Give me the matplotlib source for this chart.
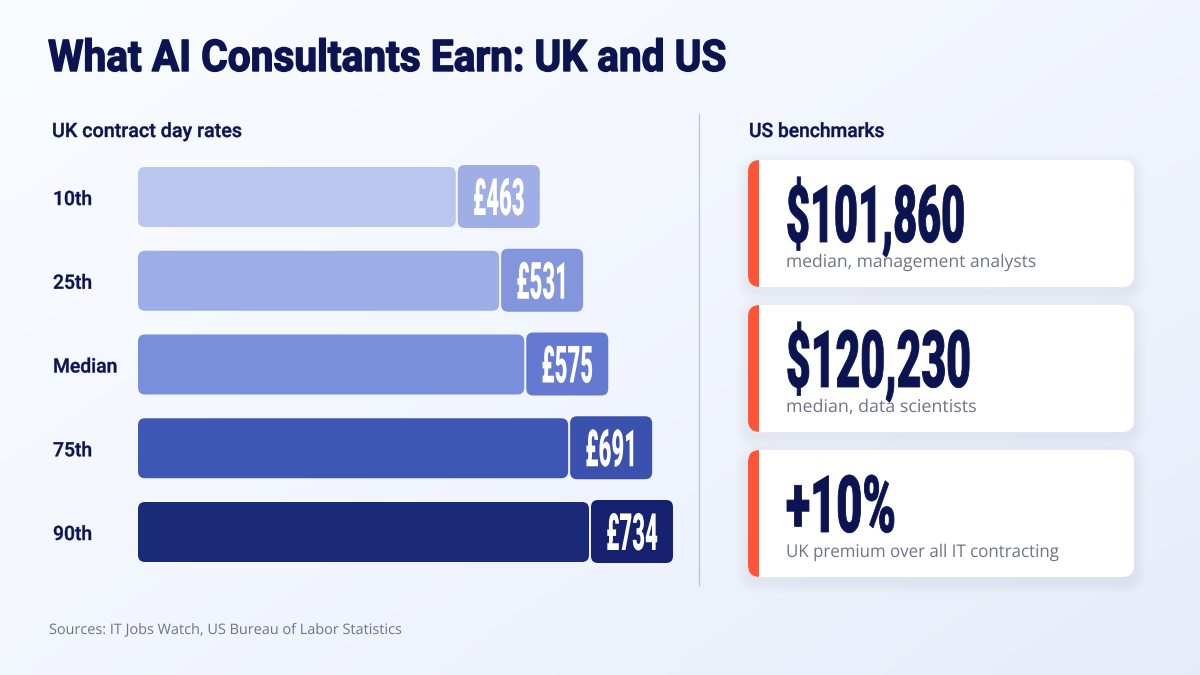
#!/usr/bin/env python3
"""Day rate bars and US benchmark cards, saved to out.png."""

import numpy as np
import matplotlib
matplotlib.use("Agg")
import matplotlib.pyplot as plt
import matplotlib.patheffects as pe
from matplotlib.patches import FancyBboxPatch, Rectangle
from matplotlib.transforms import Affine2D

TITLE = "What AI Consultants Earn: UK and US"
SOURCE = "Sources: IT Jobs Watch, US Bureau of Labor Statistics"

percentiles = ["10th", "25th", "Median", "75th", "90th"]
day_rates = [463, 531, 575, 691, 734]
rate_labels = ["£463", "£531", "£575", "£691", "£734"]

benchmark_values = ["$101,860", "$120,230", "+10%"]
benchmark_notes = ["median, management analysts", "median, data scientists",
                   "UK premium over all IT contracting"]

# the bars in the picture are not to scale, so the axis is bent to fit them
scale_rates = [0, 463, 531, 575, 691, 734]
scale_frac = [0.0, 0.751, 0.832, 0.879, 0.961, 1.0]

NAVY = "#0b1450"
GREY = "#6f7486"
RED = "#ff5436"
bar_colors = ["#b9c6ee", "#9dade5", "#7a8fdc", "#3f57b4", "#1b2a78"]
pill_colors = ["#9fafe5", "#8396db", "#6479d0", "#3a51ad", "#162270"]

HEAD = "Roboto"
BODY = "Open Sans"


class Squeeze(pe.AbstractPathEffect):
    """Narrow a text horizontally about a fixed x pixel; no condensed font is installed."""

    def __init__(self, factor, x0, grow=0.0):
        super().__init__()
        self.factor, self.x0, self.grow = factor, x0, grow

    def draw_path(self, renderer, gc, tpath, affine, rgbFace=None):
        squeezed = affine + Affine2D().translate(-self.x0, 0).scale(self.factor, 1).translate(self.x0, 0)
        gc0 = renderer.new_gc()
        gc0.copy_properties(gc)
        if self.grow:
            gc0.set_linewidth(self.grow)
            gc0.set_foreground(rgbFace)
        renderer.draw_path(gc0, tpath, squeezed, rgbFace)
        gc0.restore()


def box(ax, x0, y0, x1, y1, color, radius=7, **kw):
    p = FancyBboxPatch((x0 + radius, y0 + radius), x1 - x0 - 2 * radius, y1 - y0 - 2 * radius,
                       boxstyle=f"round,pad={radius},rounding_size={radius}",
                       facecolor=color, edgecolor="none", **kw)
    ax.add_patch(p)
    return p


def label(ax, x, y, s, size, color, family=HEAD, weight="medium", squeeze=1.0, grow=0.0, ha="left", zorder=6):
    return ax.text(x, y, s, fontsize=size, color=color, family=family, weight=weight, va="baseline",
                   ha=ha, zorder=zorder, path_effects=[Squeeze(squeeze, x, grow)])


fig = plt.figure(figsize=(12, 6.75), dpi=100)
ax = fig.add_axes([0, 0, 1, 1])
ax.set_xlim(0, 1200)
ax.set_ylim(675, 0)
ax.axis("off")

# background wash, light top left to bluish bottom right
yy, xx = np.mgrid[0:1:68j, 0:1:120j]
wash = 0.55 * xx + 0.45 * yy
wash = 0.5 * wash + 0.5 * wash ** 2
c0, c1 = np.array([0.975, 0.985, 1.0]), np.array([0.905, 0.925, 0.98])
ax.imshow(c0 + (c1 - c0) * wash[..., None], extent=(0, 1200, 675, 0), aspect="auto",
          interpolation="bicubic", zorder=0)

label(ax, 48, 71, TITLE, 31.5, NAVY, weight="bold", squeeze=0.928, grow=1.0)
label(ax, 52, 137, "UK contract day rates", 14.2, NAVY, squeeze=1.0, grow=0.3)
label(ax, 749, 137, "US benchmarks", 14.2, NAVY, squeeze=0.975, grow=0.3)
label(ax, 49, 634, SOURCE, 10.4, GREY, family=BODY, weight="normal")
ax.plot([699, 699], [114, 585], color="#bcc5d6", lw=1, zorder=1)

# bars live on a second axes with the bent rate scale
chart = fig.add_axes([138 / 1200, 1 - 562 / 675, 535 / 1200, 395 / 675])
chart.set_xscale("function", functions=(lambda v: np.interp(v, scale_rates, scale_frac),
                                        lambda f: np.interp(f, scale_frac, scale_rates)))
chart.set_xlim(scale_rates[0], scale_rates[-1])
chart.axis("off")

for i, (name, rate, lab) in enumerate(zip(percentiles, day_rates, rate_labels)):
    end = chart.transData.transform((rate, 0))[0]  # pill's right edge
    left = chart.transData.transform((0, 0))[0]
    top = 167 + i * 83.75
    box(ax, left, top, end - 84, top + 60, bar_colors[i], radius=7, zorder=2)
    box(ax, end - 82, top - 2, end, top + 61, pill_colors[i], radius=7, zorder=2)
    label(ax, end - 41, top + 48, lab, 37, "white", weight="black", squeeze=0.43, ha="center")
    label(ax, 53, top + 38, name, 14.2, NAVY, squeeze=0.98, grow=0.3)

value_squeeze = [0.523, 0.54, 0.57]
note_squeeze = [1.0, 1.02, 0.965]
for i, (val, note) in enumerate(zip(benchmark_values, benchmark_notes)):
    top = 160 + i * 145
    bottom = top + 127
    # soft shadow built from stacked translucent boxes
    for grow in range(12, 0, -2):
        box(ax, 748 - grow, top - grow + 5, 1134 + grow, bottom + grow + 5, "#5a6a9c",
            radius=12 + grow, alpha=0.010, zorder=2)
    card = box(ax, 748, top, 1134, bottom, "white", radius=12, zorder=3)
    strip = Rectangle((748, top), 11, 127, facecolor=RED, edgecolor="none", zorder=4)
    ax.add_patch(strip)
    strip.set_clip_path(card)
    label(ax, 786, top + 82, val, 57, NAVY, weight="black", squeeze=value_squeeze[i], grow=0.6)
    label(ax, 786, top + 107, note, 12.6, GREY, family=BODY, weight="normal", squeeze=note_squeeze[i])

fig.savefig("out.png", dpi=100)
plt.close(fig)
